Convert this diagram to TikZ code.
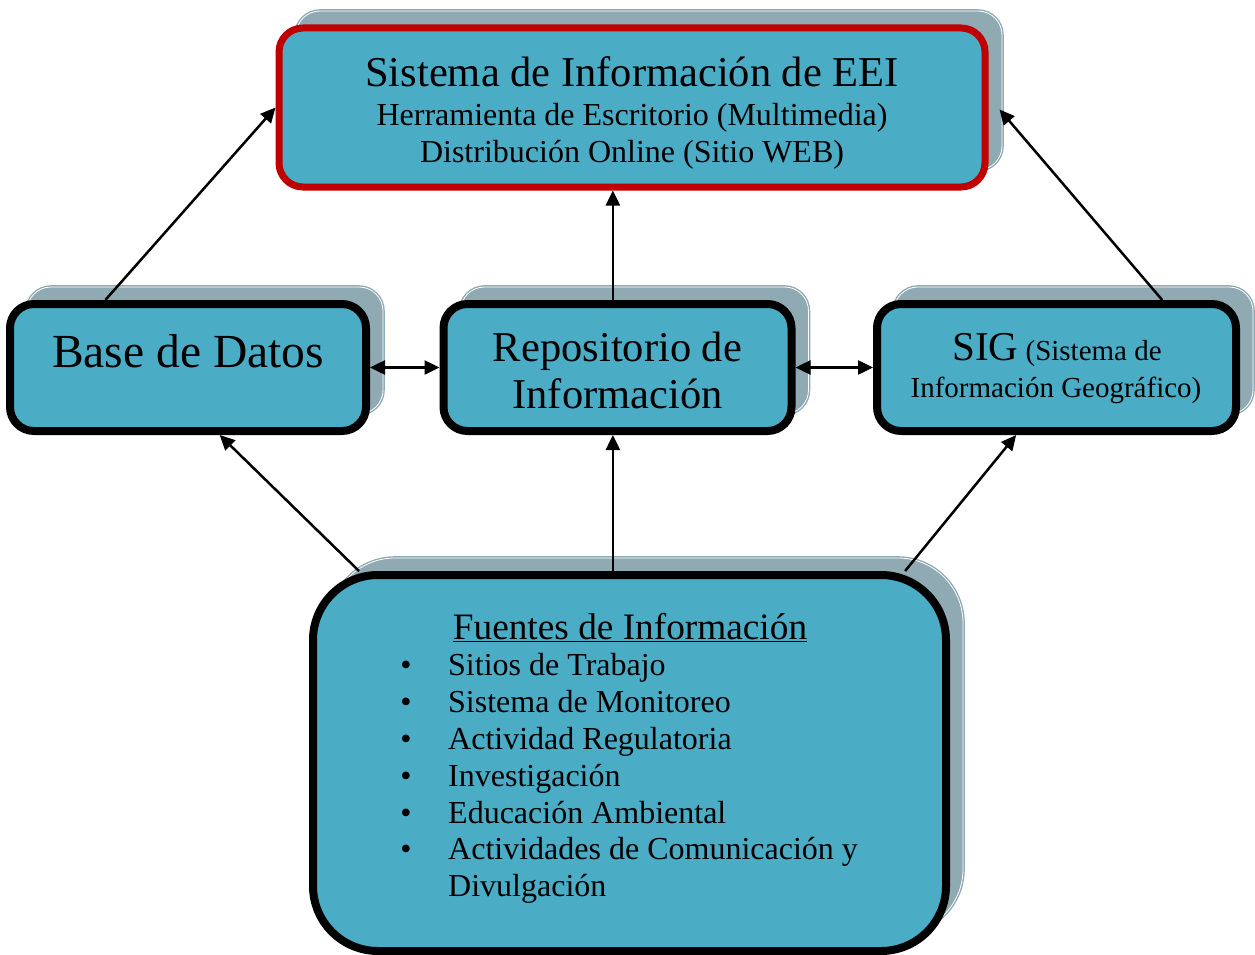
\documentclass[tikz,border=0pt]{standalone}
\usepackage{fontspec}
\setmainfont{Liberation Serif}
\usetikzlibrary{arrows.meta, positioning, calc, shadows}

\definecolor{cajaazul}{HTML}{4BACC6}
\definecolor{sombragris}{HTML}{8FAAB3}
\definecolor{bordero}{HTML}{C00000}

\newcommand{\fs}[1]{\fontsize{#1}{#1}\selectfont}

\tikzset{
  caja/.style={draw=black, line width=8pt, fill=cajaazul, rounded corners=24pt, inner sep=0pt,
    general shadow={shadow xshift=17pt, shadow yshift=17pt, fill=sombragris, draw=sombragris,
      double=white, double distance=0.8pt, line width=1.4pt}},
  txt/.style={inner sep=0pt, anchor=base},
  flecha/.style={line width=2.5pt},
}

\begin{document}
\begin{tikzpicture}[x=1pt, y=-1pt, >={Triangle[length=15pt,width=14pt]}]

\useasboundingbox (0,0) rectangle (1255,955);

% cajas
\node[caja, draw=bordero, line width=7pt, minimum width=706pt, minimum height=159pt] (sistema) at (632,107.5) {};
\node[caja, minimum width=356pt, minimum height=127pt] (base) at (188,367.5) {};
\node[caja, minimum width=348pt, minimum height=127pt] (repo) at (617.5,367.5) {};
\node[caja, minimum width=359pt, minimum height=127pt] (sig) at (1056.5,367.5) {};
\node[caja, rounded corners=65pt, minimum width=633pt, minimum height=376pt] (fuentes) at (629.5,763) {};

% textos
\node[txt, font={\fs{42.5}}] (titulo) at (632,87) {Sistema de Información de EEI};
\node[txt, font={\fs{32}}] (herramienta) at (632,126) {Herramienta de Escritorio (Multimedia)};
\node[txt, font={\fs{32}}] (distribucion) at (632,162) {Distribución Online (Sitio WEB)};

\node[txt, font={\fs{47.5}}] (basetxt) at (188,367) {Base de Datos};

\node[txt, font={\fs{42.5}}] (repotxt1) at (617.5,361) {Repositorio de};
\node[txt, font={\fs{42.5}}] (repotxt2) at (617.5,408) {Información};

\node[txt, font={\fs{29}}] (sigtxt1) at (1057,360) {{\fs{41}SIG} (Sistema de};
\node[txt, font={\fs{29}}] (sigtxt2) at (1056,397) {Información Geográfico)};

\node[txt, font={\fs{37.3}}] (fuentestxt) at (630,639) {\underline{Fuentes de Información}};
\foreach \texto [count=\i] in {Sitios de Trabajo, Sistema de Monitoreo, Actividad Regulatoria,
    Investigación, Educación Ambiental, Actividades de Comunicación y}{
  \node[txt, font={\fs{32}}] (bala\i) at (406,{639+\i*36.8}) {\textbullet};
  \node[txt, anchor=base west, font={\fs{32}}] (item\i) at (448,{639+\i*36.8}) {\texto};
}
\node[txt, anchor=base west, font={\fs{32}}] (item7) at (448,896.6) {Divulgación};

% flechas
\coordinate (repoarriba) at ($(repo.north west)!0.487!(repo.north east)$);
\coordinate (repoabajo) at ($(repo.south west)!0.487!(repo.south east)$);

\draw[flecha,->] ($(base.north west)!0.273!(base.north east)$) -- (sistema.west);
\draw[flecha,->] (repoarriba) -- (repoarriba |- sistema.south);
\draw[flecha,->] ($(sig.north west)!0.788!(sig.north east)$) -- ($(sistema.east)+(11,2)$);

\draw[flecha,<->] (base.east) -- (repo.west);
\draw[flecha,<->] (repo.east) -- (sig.west);

\draw[flecha,->] ($(fuentes.north west)!0.078!(fuentes.north east)$) -- ($(base.south west)!0.587!(base.south east)$);
\draw[flecha,->] (repoabajo |- fuentes.north) -- (repoabajo);
\draw[flecha,->] ($(fuentes.north west)!0.93!(fuentes.north east)$) -- ($(sig.south west)!0.39!(sig.south east)$);

\end{tikzpicture}
\end{document}
